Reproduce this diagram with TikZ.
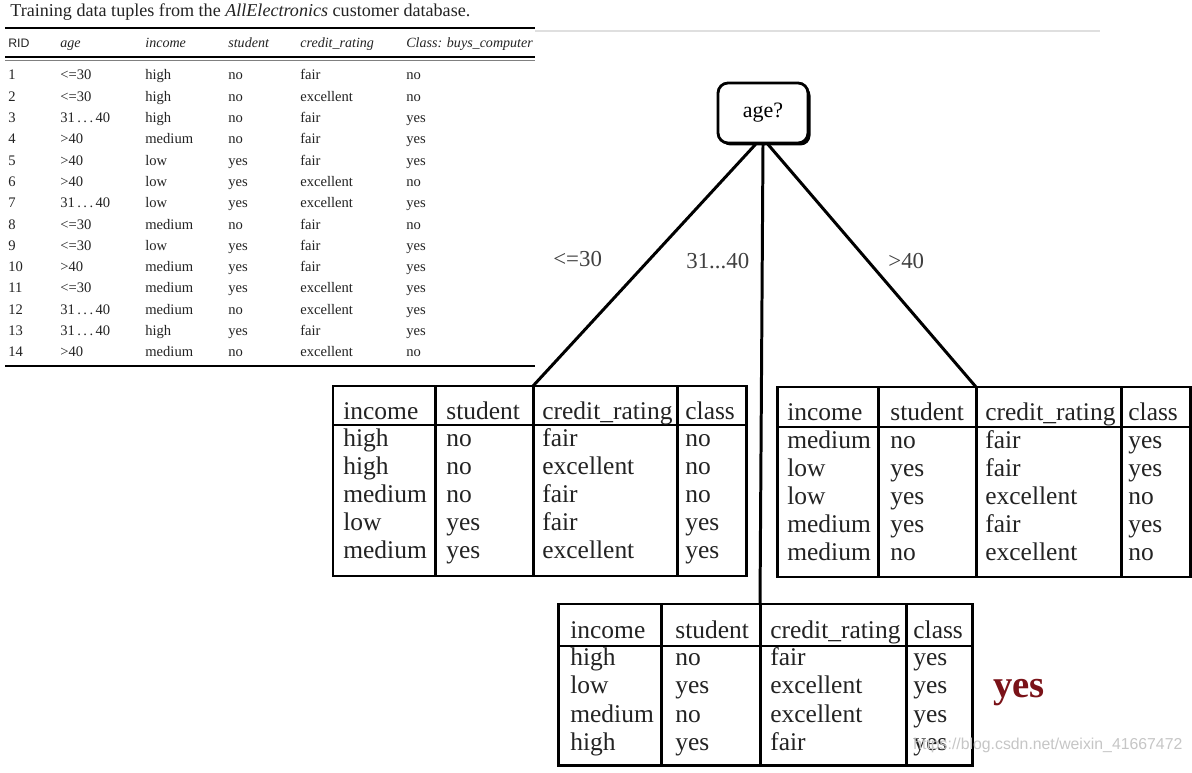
\documentclass[tikz,border=0pt]{standalone}
\usepackage{fontspec}
\setmainfont{Liberation Serif}
\newfontfamily\markfont{Liberation Sans}
\usetikzlibrary{positioning,shadows}
\definecolor{leafred}{RGB}{122,18,24}
\definecolor{inkgray}{RGB}{35,35,35}

\begin{document}
\begin{tikzpicture}[
    x=0.02cm, y=-0.02cm,
    tiny/.style={anchor=base west, inner sep=0pt, text=inkgray, font=\fontsize{8.3}{10}\selectfont},
    tinyhead/.style={tiny, font=\fontsize{8}{10}\selectfont\itshape},
    cell/.style={anchor=base west, inner sep=0pt, text=inkgray, font=\fontsize{14.5}{17}\selectfont},
    grid/.style={line width=1.7pt},
    branch/.style={line width=1.7pt},
    test/.style={rectangle, rounded corners=0.2cm, draw, line width=1.6pt, fill=white,
        minimum width=1.8cm, minimum height=1.2cm, font=\fontsize{12.5}{15}\selectfont,
        drop shadow={shadow xshift=0.05cm, shadow yshift=-0.05cm, fill=black, opacity=1}},
    lbl/.style={anchor=base west, inner sep=0pt, text=black!75, font=\fontsize{13}{15}\selectfont}
]
    \fill[white] (0,0) rectangle (1192,773);
    \useasboundingbox (0,0) rectangle (1192,773);

    % training data
    \node[tiny, font=\fontsize{10.3}{12}\selectfont] (title) at (10,17)
        {Training data tuples from the \textit{AllElectronics} customer database.};
    \draw[line width=1.2pt] (5,28) -- (535,28);
    \draw[line width=1pt, gray!25] (535,31) -- (1100,31);
    \node[tiny, font=\markfont\fontsize{7}{9}\selectfont] (rid) at (8,48) {RID};
    \node[tinyhead] (hage) at (60,48) {age};
    \node[tinyhead] (hinc) at (145,48) {income};
    \node[tinyhead] (hstu) at (228,48) {student};
    \node[tinyhead] (hcre) at (300,48) {credit\_rating};
    \node[tinyhead] (hcls) at (406,48) {Class: buys\_computer};
    \draw[line width=0.9pt] (5,57) -- (535,57);
    \draw[line width=0.5pt, gray] (5,60) -- (535,60);
    \foreach \n/\a/\inc/\stu/\cre/\cls in {
        1/<=30/high/no/fair/no, 2/<=30/high/no/excellent/no,
        3/31\,.\,.\,.\,40/high/no/fair/yes, 4/>40/medium/no/fair/yes,
        5/>40/low/yes/fair/yes, 6/>40/low/yes/excellent/no,
        7/31\,.\,.\,.\,40/low/yes/excellent/yes, 8/<=30/medium/no/fair/no,
        9/<=30/low/yes/fair/yes, 10/>40/medium/yes/fair/yes,
        11/<=30/medium/yes/excellent/yes, 12/31\,.\,.\,.\,40/medium/no/excellent/yes,
        13/31\,.\,.\,.\,40/high/yes/fair/yes, 14/>40/medium/no/excellent/no} {
        \node[tiny] (t-\n-0) at (8,{80+21.3*(\n-1)}) {\n};
        \node[tiny] (t-\n-1) at (60,{80+21.3*(\n-1)}) {\a};
        \node[tiny] (t-\n-2) at (145,{80+21.3*(\n-1)}) {\inc};
        \node[tiny] (t-\n-3) at (228,{80+21.3*(\n-1)}) {\stu};
        \node[tiny] (t-\n-4) at (300,{80+21.3*(\n-1)}) {\cre};
        \node[tiny] (t-\n-5) at (406,{80+21.3*(\n-1)}) {\cls};
    }
    \draw[line width=1.5pt] (5,366) -- (535,366);

    % root test
    \node[test] (age) at (763,113) {age?};

    % age <= 30
    \draw[grid] (333,386) rectangle (746,576);
    \draw[grid] (333,425) -- (746,425);
    \foreach \x in {435,533,677} \draw[grid] (\x,386) -- (\x,576);
    \coordinate (lefttop) at (533,386);
    \node[cell] (lh1) at (343,419) {income};
    \node[cell] (lh2) at (446,419) {student};
    \node[cell] (lh3) at (542,419) {credit\_rating};
    \node[cell] (lh4) at (685,419) {class};
    \foreach \inc/\stu/\cre/\cls [count=\r] in {high/no/fair/no, high/no/excellent/no,
        medium/no/fair/no, low/yes/fair/yes, medium/yes/excellent/yes} {
        \node[cell] (l-\r-1) at (343,{446+28*(\r-1)}) {\inc};
        \node[cell] (l-\r-2) at (446,{446+28*(\r-1)}) {\stu};
        \node[cell] (l-\r-3) at (542,{446+28*(\r-1)}) {\cre};
        \node[cell] (l-\r-4) at (685,{446+28*(\r-1)}) {\cls};
    }

    % age > 40
    \draw[grid] (777,387) rectangle (1190,577);
    \draw[grid] (777,427) -- (1190,427);
    \foreach \x in {878,976,1121} \draw[grid] (\x,387) -- (\x,577);
    \coordinate (righttop) at (976,387);
    \node[cell] (rh1) at (787,420) {income};
    \node[cell] (rh2) at (890,420) {student};
    \node[cell] (rh3) at (985,420) {credit\_rating};
    \node[cell] (rh4) at (1128,420) {class};
    \foreach \inc/\stu/\cre/\cls [count=\r] in {medium/no/fair/yes, low/yes/fair/yes,
        low/yes/excellent/no, medium/yes/fair/yes, medium/no/excellent/no} {
        \node[cell] (r-\r-1) at (787,{448+28.2*(\r-1)}) {\inc};
        \node[cell] (r-\r-2) at (890,{448+28.2*(\r-1)}) {\stu};
        \node[cell] (r-\r-3) at (985,{448+28.2*(\r-1)}) {\cre};
        \node[cell] (r-\r-4) at (1128,{448+28.2*(\r-1)}) {\cls};
    }

    % age 31...40
    \draw[grid] (558,604) rectangle (972,765);
    \draw[grid] (558,646) -- (972,646);
    \foreach \x in {661,760,906} \draw[grid] (\x,604) -- (\x,765);
    \coordinate (midtop) at (760,604);
    \node[cell] (mh1) at (570,638) {income};
    \node[cell] (mh2) at (675,638) {student};
    \node[cell] (mh3) at (770,638) {credit\_rating};
    \node[cell] (mh4) at (913,638) {class};
    \foreach \inc/\stu/\cre/\cls [count=\r] in {high/no/fair/yes, low/yes/excellent/yes,
        medium/no/excellent/yes, high/yes/fair/yes} {
        \node[cell] (m-\r-1) at (570,{665+28.5*(\r-1)}) {\inc};
        \node[cell] (m-\r-2) at (675,{665+28.5*(\r-1)}) {\stu};
        \node[cell] (m-\r-3) at (770,{665+28.5*(\r-1)}) {\cre};
        \node[cell] (m-\r-4) at (913,{665+28.5*(\r-1)}) {\cls};
    }
    \node[anchor=base west, inner sep=0pt, text=leafred, font=\fontsize{22}{26}\selectfont\bfseries]
        (leaf) at (993,697) {yes};

    % branches
    \draw[branch] ([xshift=-0.15cm]age.south) -- (lefttop);
    \draw[branch] (age.south) -- (midtop);
    \draw[branch] ([xshift=0.1cm]age.south) -- (righttop);
    \node[lbl] (b1) at (553,267) {<=30};
    \node[lbl] (b2) at (686,269) {31...40};
    \node[lbl] (b3) at (888,269) {>40};

    \node[anchor=base west, inner sep=0pt, text=gray!45, font=\markfont\fontsize{9}{11}\selectfont]
        (mark) at (913,749) {https://blog.csdn.net/weixin\_41667472};
\end{tikzpicture}
\end{document}
